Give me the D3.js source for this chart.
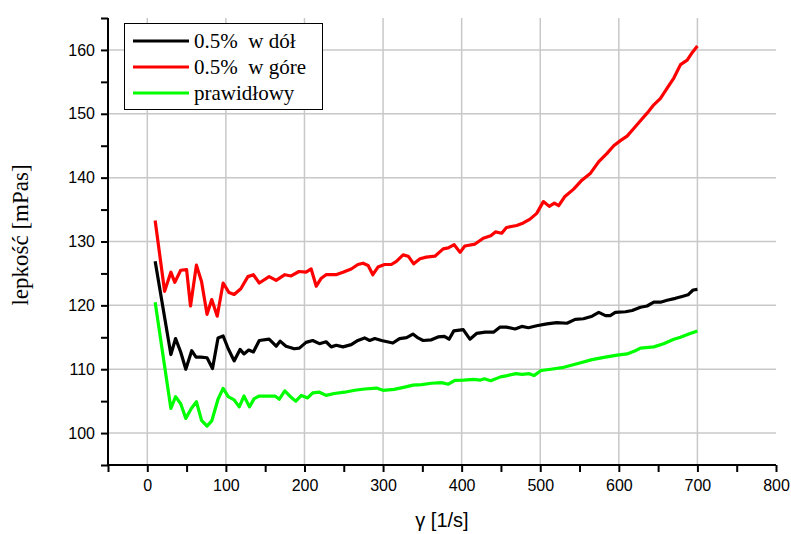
<!DOCTYPE html>
<html>
<head>
<meta charset="utf-8">
<script src="https://cdn.jsdelivr.net/npm/d3@7"></script>
<style>
  html, body { margin: 0; padding: 0; background: #fff; }
  svg { display: block; }
</style>
</head>
<body>
<script>
// ---- data ----
const seriesNames = ["0.5%  w dół", "0.5%  w góre", "prawidłowy"];
const seriesColors = ["#000000", "#ff0000", "#00ff00"];

const wDol = [[10,126.9],[30,112.3],[36,114.8],[42.5,112.7],[49,110.0],[56.5,112.9],[62,111.9],[68,111.9],[76,111.8],[83,110.1],[90,114.9],[96.5,115.2],[103,113.2],[110.5,111.3],[118,113.1],[123,112.4],[129,113.0],[135,112.7],[142.5,114.5],[155,114.7],[164,113.6],[169,114.4],[176.5,113.6],[187,113.2],[193.5,113.3],[202,114.2],[210.5,114.5],[219,114.0],[227.5,114.3],[234,113.5],[240.5,113.75],[249,113.5],[259.5,113.85],[268,114.5],[276.5,114.9],[283,114.5],[289.5,114.8],[298,114.5],[312.5,114.1],[321,114.8],[330,114.95],[338,115.5],[344.5,114.9],[351,114.5],[361.5,114.6],[370,115.05],[378,115.15],[384,114.7],[390,116.0],[402,116.2],[410.5,114.7],[419,115.6],[430,115.8],[440.5,115.8],[449,116.6],[457,116.6],[468,116.3],[476.5,116.7],[485,116.5],[495.5,116.8],[508.5,117.1],[521,117.3],[534,117.2],[544.5,117.8],[555,117.9],[566,118.3],[574.5,118.9],[583,118.4],[589,118.4],[595.5,118.9],[608.5,119.0],[617,119.2],[627.5,119.7],[636,119.9],[644.5,120.5],[653,120.5],[661.5,120.8],[672,121.1],[680.5,121.4],[688,121.65],[694.5,122.4],[700,122.5]];

const wGore = [[10,133.3],[22,122.2],[30,125.2],[35,123.6],[42.5,125.5],[50,125.6],[55,119.9],[62.5,126.3],[69,123.75],[76,118.6],[82,120.9],[89,118.3],[96.5,123.5],[104,122.0],[110.5,121.7],[119,122.6],[128,124.5],[135,124.8],[142.5,123.5],[155,124.5],[164,123.9],[175,124.8],[183,124.6],[193,125.3],[202,125.2],[208.5,125.7],[215,123.0],[221,124.2],[227.5,124.8],[240,124.8],[249,125.2],[259.5,125.7],[268,126.4],[274.5,126.6],[281,126.25],[287,124.8],[293.5,126.0],[302,126.4],[310.5,126.4],[317,126.9],[325.5,127.9],[332,127.7],[339,126.5],[347,127.3],[355,127.55],[366,127.7],[376.5,128.85],[383,129.0],[390.5,129.5],[398,128.3],[404,129.3],[417,129.6],[427.5,130.5],[437,130.9],[443,131.5],[451,131.3],[457,132.2],[470,132.5],[478.5,132.9],[487,133.5],[495.5,134.4],[504,136.25],[511.5,135.5],[518,136.0],[523.5,135.6],[531,137.0],[542.5,138.2],[553,139.6],[564,140.7],[574.5,142.5],[585,143.8],[593.5,145.0],[602,145.8],[610.5,146.5],[619,147.7],[627.5,148.9],[636,150.1],[644.5,151.4],[653,152.4],[661.5,154.0],[670,155.6],[678.5,157.7],[687,158.4],[693.5,159.6],[700,160.6]];

const prawidlowy = [[10,120.5],[30,103.85],[36,105.7],[42.5,104.6],[49,102.3],[56,103.85],[62.5,104.9],[69,102.0],[76,101.1],[82,101.9],[90,105.3],[96.5,107.0],[103,105.7],[110.5,105.2],[117,104.1],[123,105.8],[130,104.1],[136,105.4],[142.5,105.8],[155,105.8],[162.5,105.8],[168,105.3],[175,106.6],[183,105.6],[189,105.0],[196,105.9],[204,105.5],[210.5,106.3],[219,106.4],[227.5,105.9],[238,106.2],[251,106.4],[264,106.7],[276.5,106.9],[291.5,107.05],[300,106.7],[314,106.85],[327.5,107.2],[338,107.5],[349,107.6],[361.5,107.8],[374.5,107.9],[383,107.65],[391.5,108.25],[402.5,108.3],[415,108.4],[424,108.3],[429,108.5],[437,108.2],[449.5,108.8],[458,109.0],[469,109.3],[477,109.2],[486,109.3],[492,109.0],[501,109.8],[513.5,110.0],[530,110.3],[548,110.9],[566,111.5],[581,111.85],[598,112.2],[610.5,112.4],[621,112.9],[627.5,113.3],[644.5,113.5],[657,114.0],[670,114.7],[678.5,115.0],[689,115.5],[700,116.0]];

const allSeries = [wDol, wGore, prawidlowy];

const xMajorTicks = [0, 100, 200, 300, 400, 500, 600, 700, 800];
const xMinorTicks = [-50, 50, 150, 250, 350, 450, 550, 650, 750];
const yMajorTicks = [100, 110, 120, 130, 140, 150, 160];
const yMinorTicks = [95, 105, 115, 125, 135, 145, 155, 165];
const xGridValues = [0, 100, 200, 300, 400, 500, 600, 700];

const xTitle = "γ [1/s]";
const yTitle = "lepkość [mPas]";

// ---- layout ----
const W = 791, H = 534;
const x = d3.scaleLinear().domain([-50, 800]).range([108, 776]);
const y = d3.scaleLinear().domain([95, 165]).range([465, 18]);

const svg = d3.select("body").append("svg").attr("width", W).attr("height", H);

// grid
const grid = svg.append("g").attr("stroke", "#c8c8c8").attr("stroke-width", 1.5);
grid.selectAll("line.v").data(xGridValues).join("line")
  .attr("x1", d => x(d)).attr("x2", d => x(d))
  .attr("y1", y(95)).attr("y2", y(165));
grid.selectAll("line.h").data(yMajorTicks).join("line")
  .attr("x1", x(-50)).attr("x2", x(800))
  .attr("y1", d => y(d)).attr("y2", d => y(d));

// axes
const axisFont = "'Liberation Sans', Arial, sans-serif";
const serifFont = "'Liberation Serif', 'Times New Roman', 'DejaVu Serif', serif";
const xAxis = svg.append("g").attr("transform", `translate(0,${y(95)})`)
  .call(d3.axisBottom(x).tickValues(xMajorTicks).tickSize(7).tickPadding(8).tickFormat(d3.format("d")));
const xMinor = svg.append("g").attr("transform", `translate(0,${y(95)})`)
  .call(d3.axisBottom(x).tickValues(xMinorTicks).tickSize(7).tickFormat(""));
const yAxis = svg.append("g").attr("transform", `translate(${x(-50)},0)`)
  .call(d3.axisLeft(y).tickValues(yMajorTicks).tickSize(7).tickPadding(6).tickFormat(d3.format("d")));
const yMinor = svg.append("g").attr("transform", `translate(${x(-50)},0)`)
  .call(d3.axisLeft(y).tickValues(yMinorTicks).tickSize(7).tickFormat(""));

[xAxis, xMinor, yAxis, yMinor].forEach(g => {
  g.select(".domain").attr("stroke", "#000").attr("stroke-width", 2);
  g.selectAll(".tick line").attr("stroke", "#000").attr("stroke-width", 2);
  g.selectAll("text").attr("font-family", axisFont).attr("font-size", 16).attr("fill", "#000");
});
xMinor.select(".domain").remove();
yMinor.select(".domain").remove();
xAxis.select(".domain").attr("d", `M${x(-50)},0H${x(800)}`);
yAxis.select(".domain").attr("d", `M0,${y(95)}V${y(165)}`);

// lines
const line = d3.line().x(d => x(d[0])).y(d => y(d[1]));
svg.append("g").selectAll("path").data(allSeries).join("path")
  .attr("d", line)
  .attr("fill", "none")
  .attr("stroke", (d, i) => seriesColors[i])
  .attr("stroke-width", 3.2)
  .attr("stroke-linejoin", "round");

// axis titles
svg.append("text").text(xTitle)
  .attr("x", 442).attr("y", 527)
  .attr("text-anchor", "middle")
  .attr("font-family", axisFont).attr("font-size", 20);
svg.append("text").text(yTitle)
  .attr("transform", "translate(28,235) rotate(-90)")
  .attr("text-anchor", "middle")
  .attr("font-family", serifFont).attr("font-size", 23);

// legend
const lg = svg.append("g");
lg.append("rect").attr("x", 124.5).attr("y", 23.5).attr("width", 198).attr("height", 86)
  .attr("fill", "#fff").attr("stroke", "#000").attr("stroke-width", 1);
seriesNames.forEach((name, i) => {
  const yy = 41 + i * 26;
  lg.append("line").attr("x1", 133).attr("x2", 189).attr("y1", yy).attr("y2", yy)
    .attr("stroke", seriesColors[i]).attr("stroke-width", 3);
  lg.append("text").text(name)
    .attr("x", 194).attr("y", yy + 7)
    .style("white-space", "pre")
    .attr("font-family", serifFont)
    .attr("font-size", 21);
});
</script>
</body>
</html>
